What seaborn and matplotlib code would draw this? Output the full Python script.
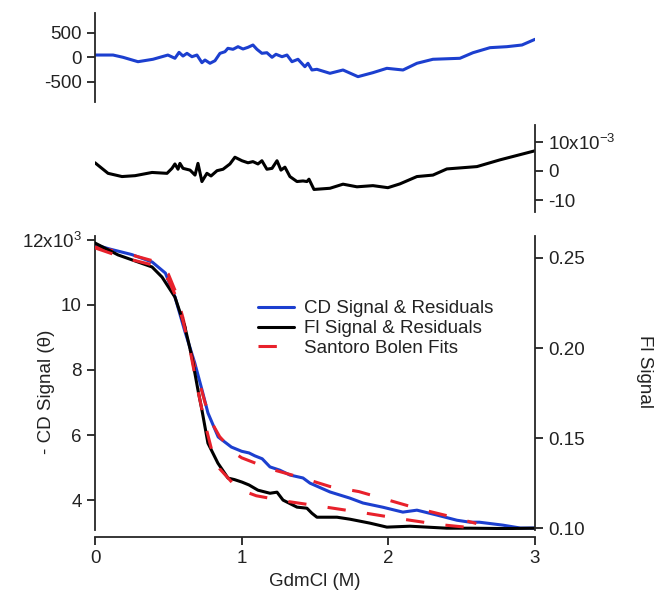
import matplotlib
matplotlib.use("Agg")
import matplotlib.pyplot as plt
import seaborn as sns

# ---------------- data ----------------
# CD signal (left axis, x10^3) vs GdmCl (M)
cd_x = [0, 0.10, 0.25, 0.39, 0.48, 0.545, 0.61, 0.68, 0.73, 0.77, 0.84, 0.93, 1.0, 1.05,
        1.09, 1.14, 1.193, 1.26, 1.329, 1.418, 1.466, 1.602, 1.738, 1.827, 1.963, 2.099,
        2.195, 2.331, 2.468, 2.556, 2.62, 2.78, 2.90, 3.0]
cd_y = [11.85, 11.72, 11.55, 11.32, 10.98, 10.25, 9.23, 8.22, 7.38, 6.68, 5.94, 5.63, 5.50,
        5.45, 5.36, 5.27, 5.02, 4.92, 4.77, 4.68, 4.52, 4.25, 4.06, 3.91, 3.78, 3.63,
        3.69, 3.54, 3.38, 3.32, 3.32, 3.23, 3.14, 3.14]

# Fl signal (right axis)
fi_x = [0, 0.157, 0.389, 0.457, 0.545, 0.613, 0.661, 0.702, 0.729, 0.770, 0.838, 0.907,
        0.95, 1.002, 1.05, 1.111, 1.193, 1.241, 1.282, 1.377, 1.445, 1.479, 1.513, 1.650,
        1.738, 1.875, 1.990, 2.147, 2.263, 2.399, 2.556, 2.8, 3.0]
fi_y = [0.2583, 0.2517, 0.2450, 0.2394, 0.2283, 0.2117, 0.1950, 0.1767, 0.1656, 0.1472,
        0.1361, 0.1278, 0.1270, 0.1256, 0.1240, 0.1211, 0.1194, 0.1200, 0.1156, 0.1117,
        0.1111, 0.1083, 0.1061, 0.1061, 0.1050, 0.1028, 0.1006, 0.1011, 0.1006, 0.1000,
        0.1000, 0.0998, 0.1000]

# Santoro Bolen fits
cdfit_x = [0, 0.2, 0.4, 0.5, 0.55, 0.6, 0.65, 0.7, 0.75, 0.8, 0.85, 0.95, 1.0, 1.2,
           1.4, 1.6, 1.8, 2.0, 2.2, 2.4, 2.6]
cdfit_y = [11.78, 11.6, 11.35, 10.95, 10.4, 9.6, 8.6, 7.8, 7.0, 6.35, 5.95, 5.45, 5.3,
           4.95, 4.70, 4.42, 4.26, 4.00, 3.74, 3.52, 3.28]
fifit_x = [0, 0.2, 0.4, 0.5, 0.55, 0.6, 0.65, 0.7, 0.75, 0.8, 0.85, 0.95, 1.0, 1.1,
           1.3, 1.55, 1.85, 2.1, 2.35, 2.6]
fifit_y = [0.2556, 0.2500, 0.2460, 0.2380, 0.2290, 0.2150, 0.1980, 0.1770, 0.1580,
           0.1420, 0.1330, 0.1240, 0.1210, 0.1180, 0.1150, 0.1120, 0.1083, 0.1050,
           0.1020, 0.1000]

# CD residuals (top panel)
cdres_x = [0.000, 0.123, 0.191, 0.293, 0.395, 0.497, 0.545, 0.573, 0.600, 0.627, 0.661,
           0.695, 0.729, 0.750, 0.784, 0.818, 0.852, 0.886, 0.906, 0.941, 0.975, 1.009,
           1.043, 1.077, 1.104, 1.138, 1.172, 1.207, 1.234, 1.275, 1.309, 1.343, 1.384,
           1.431, 1.452, 1.479, 1.513, 1.602, 1.691, 1.793, 1.895, 1.990, 2.100, 2.195,
           2.304, 2.488, 2.577, 2.693, 2.808, 2.911, 3.0]
cdres_y = [46, 46, 0, -89, -40, 46, -20, 100, 26, 80, 12, 46, -109, -55, -121, -69, 80,
           113, 182, 162, 215, 168, 202, 249, 162, 81, 93, 0, 61, 12, 46, -89, -40, -190,
           -121, -257, -243, -324, -257, -392, -311, -223, -257, -121, -40, -20, 93, 195,
           215, 249, 364]

# Fl residuals (middle panel), in units of 1e-3
fires_x = [0.000, 0.089, 0.184, 0.273, 0.389, 0.491, 0.525, 0.545, 0.566, 0.579, 0.600,
           0.648, 0.682, 0.702, 0.729, 0.763, 0.791, 0.832, 0.873, 0.920, 0.954, 1.002,
           1.043, 1.077, 1.111, 1.138, 1.172, 1.207, 1.241, 1.268, 1.295, 1.329, 1.377,
           1.418, 1.445, 1.459, 1.493, 1.602, 1.691, 1.786, 1.895, 1.997, 2.079, 2.195,
           2.304, 2.399, 2.604, 2.761, 3.0]
fires_y = [2.8, -0.8, -1.9, -1.6, -0.5, -0.8, 0.9, 2.4, 0.6, 2.6, 0.9, 0.3, -1.4, 2.6,
           -3.6, -0.8, -1.7, 0.1, 0.6, 2.4, 4.7, 3.5, 2.8, 3.2, 2.4, 3.5, 0.6, 0.9, 3.5,
           0.3, 1.3, -1.9, -3.6, -3.4, -3.6, -2.8, -6.3, -5.9, -4.5, -5.4, -5.0, -5.7,
           -4.4, -1.9, -1.4, 0.7, 1.5, 3.8, 6.9]
fires_y = [v * 1e-3 for v in fires_y]

labels = ["CD Signal & Residuals", "Fl Signal & Residuals", "Santoro Bolen Fits"]

# ---------------- style ----------------
sns.set_theme(style="ticks")
plt.rcParams["font.family"] = ["Liberation Sans", "DejaVu Sans"]
plt.rcParams["mathtext.fontset"] = "custom"
plt.rcParams["mathtext.rm"] = "Liberation Sans"
plt.rcParams["mathtext.it"] = "Liberation Sans:italic"
plt.rcParams["axes.unicode_minus"] = False

FS = 13.5
BLUE = "#1c3fcf"
RED = "#e8212b"
TXT = "#222222"
LW = 2.2

fig = plt.figure(figsize=(6.6, 6.04), dpi=100)
W, H = 660.0, 604.0
def rect(x0, y0, x1, y1):
    return [x0 / W, 1 - y1 / H, (x1 - x0) / W, (y1 - y0) / H]

ax_top = fig.add_axes(rect(95, 13, 535, 102))
ax_mid = fig.add_axes(rect(95, 125, 535, 212))
ax = fig.add_axes(rect(95, 236, 535, 530))
ax2 = ax.twinx()

def style_ticks(a):
    a.tick_params(axis="both", length=6, width=1.3, labelsize=FS, color=TXT,
                  labelcolor=TXT)

# top: CD residuals
sns.lineplot(x=cdres_x, y=cdres_y, ax=ax_top, color=BLUE, lw=LW, sort=False, estimator=None)
ax_top.set_xlim(0, 3)
ax_top.set_ylim(-905, 897)
ax_top.set_yticks([-500, 0, 500])
ax_top.set_yticklabels(["-500", "0", "500"])
for s in ["top", "right", "bottom"]:
    ax_top.spines[s].set_visible(False)
ax_top.spines["left"].set_linewidth(1.3)
ax_top.set_xticks([])
style_ticks(ax_top)

# middle: Fl residuals
sns.lineplot(x=fires_x, y=fires_y, ax=ax_mid, color="black", lw=LW, sort=False, estimator=None)
ax_mid.set_xlim(0, 3)
ax_mid.set_ylim(-0.0140, 0.0157)
ax_mid.yaxis.tick_right()
ax_mid.set_yticks([-0.01, 0, 0.01])
ax_mid.set_yticklabels(["-10", "0", "10x10$^{-3}$"])
for s in ["top", "left", "bottom"]:
    ax_mid.spines[s].set_visible(False)
ax_mid.spines["right"].set_linewidth(1.3)
ax_mid.set_xticks([])
style_ticks(ax_mid)

# bottom: signals + fits
sns.lineplot(x=cd_x, y=cd_y, ax=ax, color=BLUE, lw=LW, sort=False, estimator=None, zorder=2)
sns.lineplot(x=cdfit_x, y=cdfit_y, ax=ax, color=RED, lw=LW, sort=False, estimator=None,
             zorder=3)
ax.lines[-1].set_dashes((6, 7))
sns.lineplot(x=fi_x, y=fi_y, ax=ax2, color="black", lw=LW, sort=False, estimator=None, zorder=2)
sns.lineplot(x=fifit_x, y=fifit_y, ax=ax2, color=RED, lw=LW, sort=False, estimator=None,
             zorder=3)
ax2.lines[-1].set_dashes((6, 7))

ax.set_xlim(0, 3)
ax.set_ylim(3.08, 12.12)
ax.set_yticks([4, 6, 8, 10, 12])
ax.set_yticklabels(["4", "6", "8", "10", "12x10$^{3}$"])
ax.set_xticks([0, 1, 2, 3])
ax.set_xticklabels(["0", "1", "2", "3"])
ax2.set_ylim(0.0990, 0.2622)
ax2.set_yticks([0.10, 0.15, 0.20, 0.25])
ax2.set_yticklabels(["0.10", "0.15", "0.20", "0.25"])

ax.spines["top"].set_visible(False)
ax2.spines["top"].set_visible(False)
ax2.spines["left"].set_visible(False)
ax2.spines["bottom"].set_visible(False)
ax.spines["right"].set_visible(False)
ax.spines["bottom"].set_position(("outward", 5))
for s in ["left", "bottom"]:
    ax.spines[s].set_linewidth(1.3)
ax2.spines["right"].set_linewidth(1.3)
style_ticks(ax)
style_ticks(ax2)

ax.set_xlabel("GdmCl (M)", fontsize=FS, color=TXT)
ax.set_ylabel("- CD Signal (θ)", fontsize=FS, color=TXT)
ax.yaxis.set_label_coords(-0.092, 0.47)
ax2.set_ylabel("Fl Signal", fontsize=FS, color=TXT, rotation=-90, va="center")
ax2.yaxis.set_label_coords(1.25, 0.54)

for a in (ax_top, ax_mid, ax, ax2):
    a.set_facecolor("none")
    a.grid(False)

handles = [ax.lines[0], ax2.lines[0], ax2.lines[1]]
leg = fig.legend(handles, labels, loc="upper left", bbox_to_anchor=(258 / W, 1 - 300 / H),
                 frameon=False, fontsize=FS, borderpad=0, borderaxespad=0,
                 handlelength=1.9, handletextpad=0.55, labelspacing=0.15)
for t in leg.get_texts():
    t.set_color(TXT)

fig.savefig("out.png", dpi=100)
